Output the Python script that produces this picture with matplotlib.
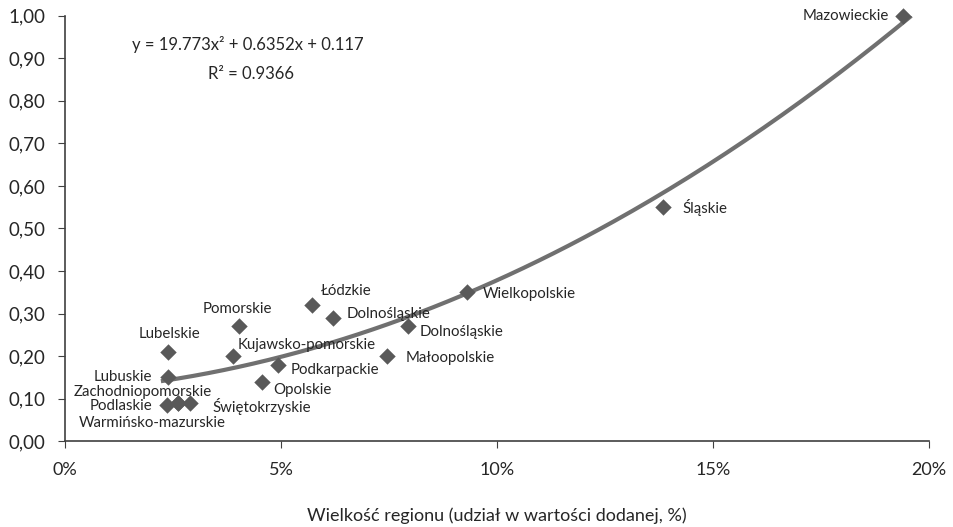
import matplotlib.pyplot as plt
import numpy as np
from matplotlib.ticker import FuncFormatter

# Region size (share in value added, %) and index value
regions = ["Mazowieckie", "Śląskie", "Wielkopolskie", "Dolnośląskie", "Łódzkie",
           "Dolnośląskie", "Małoopolskie", "Podkarpackie", "Opolskie",
           "Kujawsko-pomorskie", "Pomorskie", "Lubelskie", "Lubuskie",
           "Zachodniopomorskie", "Podlaskie", "Warmińsko-mazurskie", "Świętokrzyskie"]
share = [19.4, 13.85, 9.31, 7.94, 5.72, 6.20, 7.45, 4.93, 4.56,
         3.89, 4.03, 2.38, 2.38, 2.62, 2.37, 2.62, 2.89]
index = [1.00, 0.55, 0.35, 0.27, 0.32, 0.29, 0.20, 0.18, 0.14,
         0.20, 0.27, 0.21, 0.15, 0.09, 0.085, 0.09, 0.09]

# trendline coefficients shown on the chart (x as a fraction)
coef = [19.773, 0.6352, 0.117]
eq_text = "y = 19.773x\u00b2 + 0.6352x + 0.117"
r2_text = "R\u00b2 = 0.9366"

# label offsets in pixels (dx, dy, ha)
label_pos = [(-14, 0, "right"), (19, 0, "left"), (16, -2, "left"), (12, -6, "left"),
             (9, 14, "left"), (14, 4, "left"), (19, -2, "left"), (13, -5, "left"),
             (11, -8, "left"), (5, 11, "left"), (-2, 17, "center"), (2, 18, "center"),
             (-16, 0, "right"), (-35, 11, "center"), (-15, -1, "right"),
             (-26, -20, "center"), (23, -4, "left")]

plt.rcParams["font.family"] = ["Lato", "DejaVu Sans"]

fig = plt.figure(figsize=(9.54, 5.27), dpi=100)
ax = fig.add_axes([0.068, 0.163, 0.906, 0.807])

x_fit = np.linspace(min(share) - 0.1, max(share) + 0.15, 200)
poly = np.poly1d(coef)
ax.plot(x_fit, poly(x_fit / 100), color="#707070", lw=3, zorder=2)

ax.scatter(share, index, marker="D", s=70, color="#595959", zorder=3,
           linewidths=0, clip_on=False)

for name, xv, yv, (dx, dy, ha) in zip(regions, share, index, label_pos):
    ax.annotate(name, (xv, yv), xytext=(dx, dy), textcoords="offset pixels",
                ha=ha, va="center", fontsize=10.8, color="#262626")

ax.text(0.212, 0.932, eq_text, transform=ax.transAxes, ha="center", va="center",
        fontsize=12, color="#262626")
ax.text(0.215, 0.864, r2_text, transform=ax.transAxes, ha="center", va="center",
        fontsize=12, color="#262626")

ax.set_xlim(0, 20)
ax.set_ylim(0, 1.0)
ax.set_xticks([0, 5, 10, 15, 20])
ax.set_yticks(np.arange(0, 1.01, 0.1))
ax.xaxis.set_major_formatter(FuncFormatter(lambda v, p: f"{v:.0f}%"))
ax.yaxis.set_major_formatter(FuncFormatter(lambda v, p: f"{v:.2f}".replace(".", ",")))

for s in ["top", "right"]:
    ax.spines[s].set_visible(False)
for s in ["left", "bottom"]:
    ax.spines[s].set_color("#404040")
    ax.spines[s].set_linewidth(1.2)

ax.tick_params(axis="y", length=5, pad=9, labelsize=13.5, colors="#404040",
               labelcolor="#262626")
ax.tick_params(axis="x", length=5, pad=10, labelsize=13, colors="#404040",
               labelcolor="#262626")

ax.set_xlabel("Wielkość regionu (udział w wartości dodanej, %)", fontsize=13,
              color="#262626", labelpad=21)

fig.savefig("out.png", dpi=100)
